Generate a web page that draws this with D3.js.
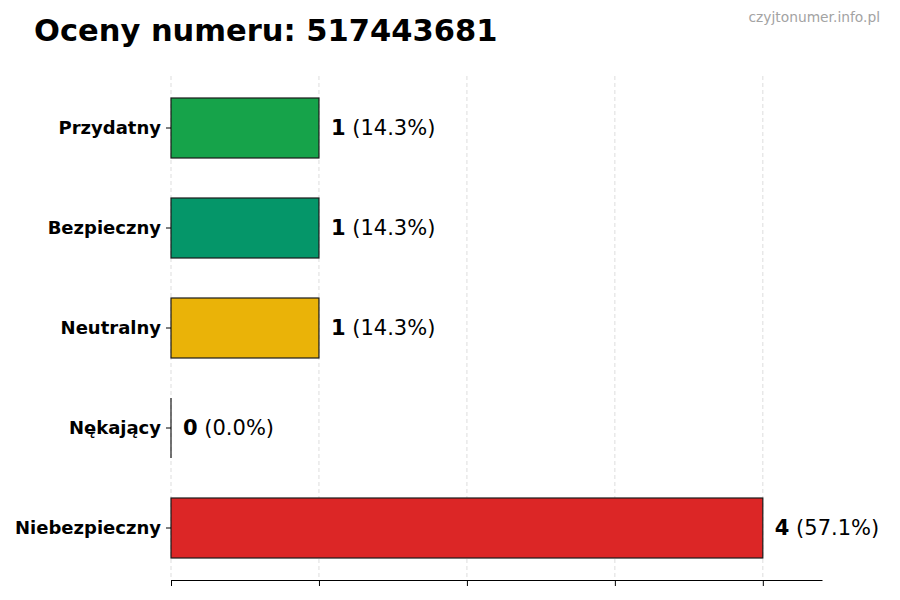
<!DOCTYPE html>
<html>
<head>
<meta charset="utf-8">
<script src="https://cdn.jsdelivr.net/npm/d3@7"></script>
<style>
  body { margin: 0; background: #fff; }
  svg { font-family: "DejaVu Sans", sans-serif; }
</style>
</head>
<body>
<div id="chart"></div>
<script>
// chart data
const categories = ["Przydatny", "Bezpieczny", "Neutralny", "Nękający", "Niebezpieczny"];
const counts = [1, 1, 1, 0, 4];
const percents = ["14.3%", "14.3%", "14.3%", "0.0%", "57.1%"];
const barColors = ["#16a34a", "#059669", "#eab308", "#6b7280", "#dc2626"];
const xTicks = [0, 1, 2, 3, 4];

const width = 900, height = 600;
const margin = { left: 171, right: 78, top: 76, bottom: 20 };

const svg = d3.select("#chart").append("svg")
    .attr("width", width)
    .attr("height", height);

const x = d3.scaleLinear().domain([0, 4.4]).range([margin.left, width - margin.right]);
const y = d3.scaleBand().domain(categories)
    .range([margin.top + 2, height - margin.bottom - 2])
    .paddingInner(0.4).paddingOuter(0.2);

// dashed vertical grid
svg.append("g").selectAll("line")
    .data(xTicks)
    .enter().append("line")
    .attr("x1", d => x(d)).attr("x2", d => x(d))
    .attr("y1", margin.top).attr("y2", height - margin.bottom)
    .attr("stroke", "#d4d4d4")
    .attr("stroke-dasharray", "4,3")
    .attr("stroke-width", 0.8);

// bars
svg.append("g").selectAll("rect")
    .data(categories)
    .enter().append("rect")
    .attr("x", x(0))
    .attr("y", d => y(d))
    .attr("width", (d, i) => x(counts[i]) - x(0))
    .attr("height", y.bandwidth())
    .attr("fill", (d, i) => barColors[i])
    .attr("stroke", "#1a1a1a")
    .attr("stroke-width", 1.2);

// zero-width bars still show their edge
svg.append("g").selectAll("line")
    .data(categories.filter((d, i) => counts[i] === 0))
    .enter().append("line")
    .attr("x1", x(0)).attr("x2", x(0))
    .attr("y1", d => y(d)).attr("y2", d => y(d) + y.bandwidth())
    .attr("stroke", "#1a1a1a")
    .attr("stroke-width", 1.2);

// value labels
const labels = svg.append("g").selectAll("text")
    .data(categories)
    .enter().append("text")
    .attr("x", (d, i) => x(counts[i]) + 12)
    .attr("y", d => y(d) + y.bandwidth() / 2)
    .attr("dy", "0.35em")
    .attr("font-size", 21);
labels.append("tspan").attr("font-weight", "bold").text((d, i) => counts[i]);
labels.append("tspan").text((d, i) => " (" + percents[i] + ")");

// bottom axis, no labels
const xAxis = svg.append("g")
    .attr("transform", `translate(0,${height - margin.bottom})`)
    .call(d3.axisBottom(x).tickValues(xTicks).tickFormat("").tickSize(6).tickSizeOuter(0));
xAxis.select(".domain").attr("stroke", "#000").attr("stroke-width", 1.2);
xAxis.selectAll(".tick line").attr("stroke", "#000");

// left axis: ticks and labels only
const yAxis = svg.append("g")
    .attr("transform", `translate(${margin.left},0)`)
    .call(d3.axisLeft(y).tickSize(5).tickPadding(5));
yAxis.select(".domain").remove();
yAxis.selectAll(".tick line").attr("stroke", "#000");
yAxis.selectAll(".tick text")
    .attr("font-size", 18)
    .attr("font-weight", "bold")
    .attr("font-family", "DejaVu Sans, sans-serif")
    .attr("fill", "#000");

// title and watermark
svg.append("text")
    .attr("x", 34).attr("y", 41)
    .attr("font-size", 30.5)
    .attr("font-weight", "bold")
    .text("Oceny numeru: 517443681");

svg.append("text")
    .attr("x", 880).attr("y", 22)
    .attr("text-anchor", "end")
    .attr("font-size", 13.8)
    .attr("fill", "#a3a3a3")
    .text("czyjtonumer.info.pl");
</script>
</body>
</html>
